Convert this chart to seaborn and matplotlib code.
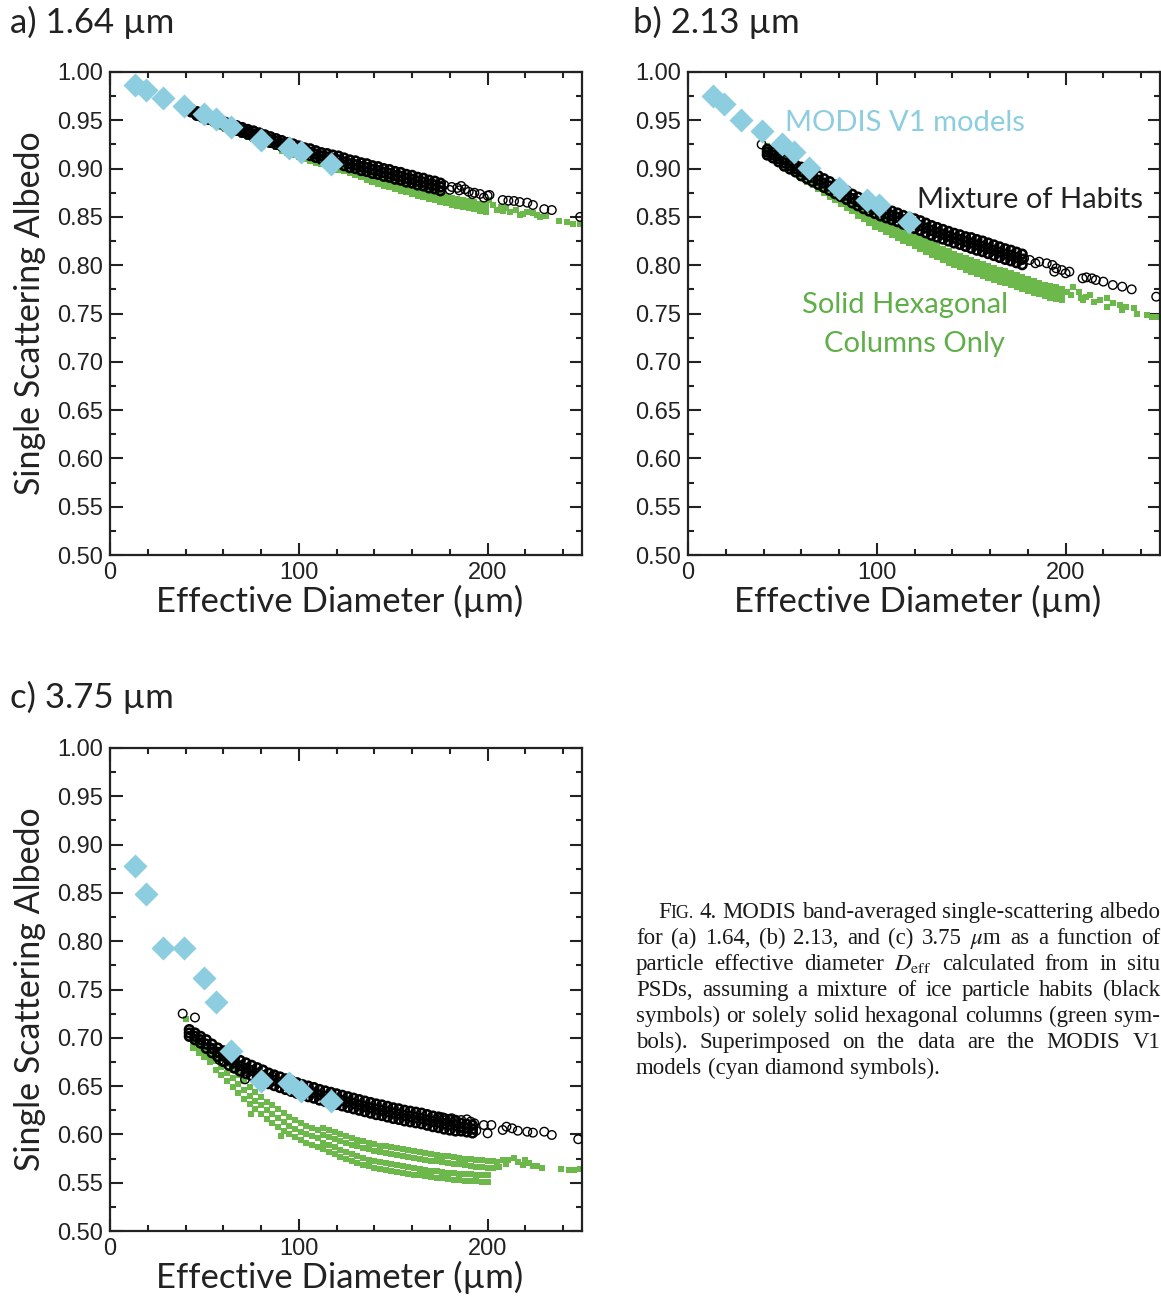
import matplotlib
matplotlib.use("Agg")
import matplotlib.pyplot as plt
import numpy as np
import pandas as pd
import seaborn as sns
from matplotlib.ticker import MultipleLocator, FormatStrFormatter

sns.set_style("ticks")
plt.rcParams["font.family"] = ["Liberation Sans", "DejaVu Sans"]
plt.rcParams["mathtext.fontset"] = "stix"

# ---------------- data ----------------
# MODIS V1 ice models (cyan diamonds), same diameters in all panels
modis_x = [13, 19, 28, 39, 50, 56, 64, 80, 95, 101, 117]
modis_a = [0.987, 0.981, 0.973, 0.965, 0.957, 0.951, 0.943, 0.930, 0.921, 0.917, 0.905]
modis_b = [0.975, 0.967, 0.950, 0.939, 0.925, 0.917, 0.901, 0.880, 0.867, 0.862, 0.845]
modis_c = [0.878, 0.849, 0.793, 0.793, 0.762, 0.737, 0.686, 0.655, 0.653, 0.645, 0.635]

# --- panel a, 1.64 um ---
a_mix_x = [40, 43, 46, 49, 52, 55, 58, 61, 64, 67,
           70, 73, 76, 79, 82, 85, 88, 91, 94, 97,
           100, 103, 106, 109, 112, 115, 118, 121, 124, 127,
           130, 133, 136, 139, 142, 145, 148, 151, 154, 157,
           160, 163, 166, 169, 172, 175]
a_mix_hi = [.9634, .9614, .959, .957, .955, .953, .951, .948, .946, .9445,
            .9425, .9405, .939, .937, .935, .933, .931, .929, .927, .9255,
            .9235, .9215, .9205, .9185, .9165, .9155, .914, .913, .911, .909,
            .908, .906, .905, .903, .902, .900, .899, .897, .896, .894,
            .893, .891, .890, .888, .887, .885]
a_mix_mid = [.962, .960, .957, .955, .953, .951, .949, .946, .944, .942,
             .940, .938, .936, .934, .932, .930, .928, .926, .924, .922,
             .920, .918, .917, .915, .913, .912, .910, .909, .907, .905,
             .904, .902, .901, .899, .898, .896, .895, .893, .892, .890,
             .889, .887, .886, .884, .883, .881]
a_mix_lo = [.9606, .9586, .955, .953, .951, .949, .947, .944, .942, .9395,
            .9375, .9355, .933, .931, .929, .927, .925, .923, .921, .9185,
            .9165, .9145, .9135, .9115, .9095, .9085, .906, .905, .903, .901,
            .900, .898, .897, .895, .894, .892, .891, .889, .888, .886,
            .885, .883, .882, .880, .879, .877]
a_mix_tail_x = [177, 180, 181, 184, 185, 186, 188, 190, 192, 193,
                196, 198, 200, 201, 208, 211, 214, 217, 221, 224,
                230, 234, 249]
a_mix_tail_y = [.883, .878, .881, .880, .8775, .882, .8786, .876, .8735, .875,
                .8737, .870, .872, .8727, .8675, .8668, .8665, .8654, .8647, .8623,
                .858, .8571, .850]

a_col_x = [58, 61, 64, 67, 70, 73, 76, 79, 82, 85,
           88, 91, 94, 97, 100, 103, 106, 109, 112, 115,
           118, 121, 124, 127, 130, 133, 136, 139, 142, 145,
           148, 151, 154, 157, 160, 163, 166, 169, 172, 175,
           178, 181, 184, 187, 190, 193, 196, 199]
a_col_hi = [.9465, .9445, .9425, .9405, .939, .937, .935, .933, .930, .928,
            .926, .924, .922, .920, .918, .916, .914, .912, .911, .909,
            .907, .9055, .9045, .9025, .9005, .8985, .8955, .8935, .8915, .8895,
            .8875, .8855, .8835, .8825, .8805, .8785, .8775, .8755, .8745, .8725,
            .8715, .8695, .8685, .8675, .8665, .8655, .8635, .8625]
a_col_mid = [.945, .943, .941, .939, .937, .935, .933, .931, .928, .926,
             .924, .921, .919, .917, .915, .913, .911, .909, .908, .906,
             .904, .902, .901, .899, .897, .895, .892, .890, .888, .886,
             .884, .882, .880, .879, .877, .875, .874, .872, .871, .869,
             .868, .866, .865, .864, .863, .862, .860, .859]
a_col_lo = [.9435, .9415, .9395, .9375, .935, .933, .931, .929, .926, .924,
            .922, .918, .916, .914, .912, .910, .908, .906, .905, .903,
            .901, .8985, .8975, .8955, .8935, .8915, .8885, .8865, .8845, .8825,
            .8805, .8785, .8765, .8755, .8735, .8715, .8705, .8685, .8675, .8655,
            .8645, .8625, .8615, .8605, .8595, .8585, .8565, .8555]
a_col_tail_x = [201, 203, 205, 207, 208, 210, 212, 215, 217, 219,
                221, 224, 226, 228, 231, 238, 242, 245, 249]
a_col_tail_y = [.8675, .862, .857, .8606, .856, .859, .8555, .857, .852, .8525,
                .8554, .8537, .852, .850, .8505, .8458, .845, .843, .8426]

# --- panel b, 2.13 um ---
b_mix_x = [42, 45, 48, 51, 54, 57, 60, 63, 66, 69,
           72, 75, 78, 81, 84, 87, 90, 93, 96, 99,
           102, 105, 108, 111, 114, 117, 120, 123, 126, 129,
           132, 135, 138, 141, 144, 147, 150, 153, 156, 159,
           162, 165, 168, 171, 174, 177]
b_mix_hi = [.920, .917, .913, .9095, .9065, .9035, .9015, .8985, .8955, .8925,
            .8895, .8865, .883, .880, .877, .8735, .8705, .8675, .865, .8625,
            .860, .858, .856, .854, .8515, .8495, .848, .846, .8435, .841,
            .839, .837, .835, .833, .8315, .8295, .8285, .8265, .825, .823,
            .821, .819, .817, .8155, .8135, .8115]
b_mix_mid = [.917, .914, .910, .906, .903, .900, .897, .894, .891, .888,
             .885, .882, .8785, .8755, .8725, .869, .866, .863, .8605, .858,
             .8555, .8535, .8515, .8495, .847, .845, .843, .841, .8385, .836,
             .834, .832, .830, .828, .8265, .8245, .823, .821, .8195, .8175,
             .8155, .8135, .8115, .810, .808, .806]
b_mix_lo = [.914, .911, .907, .9025, .8995, .8965, .8925, .8895, .8865, .8835,
            .8805, .8775, .874, .871, .868, .8645, .8615, .8585, .856, .8535,
            .851, .849, .847, .845, .8425, .8405, .838, .836, .8335, .831,
            .829, .827, .825, .823, .8215, .8195, .8175, .8155, .814, .812,
            .810, .808, .806, .8045, .8025, .8005]
b_mix_tail_x = [39, 178, 181, 184, 186, 190, 193, 194, 195, 198,
                200, 202, 209, 211, 214, 216, 220, 225, 230, 235, 248]
b_mix_tail_y = [.925, .807, .8054, .802, .8036, .802, .8002, .7933, .7968, .795,
                .7916, .7933, .7864, .7874, .7864, .7847, .783, .7795, .7778, .775, .7674]

b_col_x = [42, 45, 48, 51, 54, 57, 60, 63, 66, 69,
           72, 75, 78, 81, 84, 87, 90, 93, 96, 99,
           102, 105, 108, 111, 114, 117, 120, 123, 126, 129,
           132, 135, 138, 141, 144, 147, 150, 153, 156, 159,
           162, 165, 168, 171, 174, 177, 180, 183, 186, 189,
           192, 195, 198]
b_col_hi = [.923, .919, .914, .9115, .9075, .9035, .8995, .8955, .892, .888,
            .884, .880, .876, .872, .8685, .865, .863, .8595, .856, .852,
            .849, .846, .843, .840, .8375, .8345, .832, .829, .826, .823,
            .820, .817, .8145, .812, .810, .807, .805, .803, .801, .799,
            .797, .795, .7935, .792, .7895, .7875, .7855, .7835, .782, .780,
            .7785, .777, .7755]
b_col_mid = [.920, .916, .911, .907, .903, .899, .895, .891, .8875, .8835,
             .8795, .8755, .8715, .8675, .864, .8605, .857, .8535, .850, .846,
             .843, .840, .837, .834, .8315, .8285, .826, .823, .820, .817,
             .814, .811, .8085, .806, .804, .801, .799, .797, .795, .793,
             .791, .789, .7875, .786, .7835, .7815, .7795, .7775, .776, .774,
             .7725, .771, .7695]
b_col_lo = [.917, .913, .908, .9025, .8985, .8945, .8905, .8865, .883, .879,
            .875, .871, .867, .863, .8595, .856, .851, .8475, .844, .840,
            .837, .834, .831, .828, .8255, .8225, .820, .817, .814, .811,
            .808, .805, .8025, .800, .798, .795, .793, .791, .789, .787,
            .785, .783, .7815, .780, .7775, .7755, .7735, .7715, .770, .768,
            .7665, .765, .7635]
b_col_tail_x = [201, 203, 204, 207, 208, 209, 211, 213, 215, 218,
                222, 222, 225, 229, 230, 232, 236, 238, 243, 246, 249]
b_col_tail_y = [.772, .769, .7778, .7726, .7665, .7635, .7674, .7692, .7615, .764,
                .7657, .757, .7605, .7588, .7535, .757, .7554, .750, .7484, .7467, .746]

# --- panel c, 3.75 um ---
c_mix_x = [42, 45, 48, 51, 54, 57, 60, 63, 66, 69,
           72, 75, 78, 81, 84, 87, 90, 93, 96, 99,
           102, 105, 108, 111, 114, 117, 120, 123, 126, 129,
           132, 135, 138, 141, 144, 147, 150, 153, 156, 159,
           162, 165, 168, 171, 174, 177, 180, 183, 186, 189, 192]
c_mix_hi = [.7085, .705, .7015, .698, .6935, .6895, .6865, .6825, .6795, .6765,
            .674, .6715, .669, .6665, .6635, .6615, .6595, .6575, .6555, .6535,
            .6515, .650, .6485, .6465, .645, .6435, .642, .6405, .639, .6375,
            .636, .6345, .633, .6315, .6305, .629, .6275, .6265, .625, .624,
            .623, .622, .6205, .619, .618, .6165, .6155, .6145, .6115, .6105, .6095]
c_mix_mid = [.705, .7015, .698, .6935, .689, .685, .681, .677, .674, .671,
             .6685, .666, .6635, .661, .658, .656, .654, .652, .650, .648,
             .646, .6445, .643, .641, .6395, .638, .6365, .635, .6335, .632,
             .6305, .629, .6275, .626, .625, .6235, .622, .621, .6195, .6185,
             .6175, .6165, .615, .6135, .6125, .611, .610, .609, .6075, .6065, .6055]
c_mix_lo = [.7015, .698, .6945, .689, .6845, .6805, .6755, .6715, .6685, .6655,
            .663, .6605, .658, .6555, .6525, .6505, .6485, .6465, .6445, .6425,
            .6405, .639, .6375, .6355, .634, .6325, .631, .6295, .628, .6265,
            .625, .6235, .622, .6205, .6195, .618, .6165, .6155, .614, .613,
            .612, .611, .6095, .608, .607, .6055, .6045, .6035, .6035, .6025, .6015]
c_mix_tail_x = [38.5, 45, 54.6, 58, 60.5, 71.5, 81, 86, 176, 178,
                181, 183, 186, 189, 191, 193, 194, 198, 200, 202,
                208, 210, 213, 216, 221, 224, 230, 234, 248]
c_mix_tail_y = [.725, .721, .688, .677, .675, .657, .667, .660, .6177, .6149,
                .6167, .6097, .6149, .6156, .6132, .6115, .6038, .6097, .6011, .6097,
                .6046, .608, .6063, .6038, .6028, .6018, .6028, .5994, .595]

c_col_x = [44, 47, 50, 53, 56, 59, 62, 65, 68, 71,
           74, 77, 80, 83, 86, 89, 92, 95, 98, 101,
           104, 107, 110]
c_col_hi = [.701, .696, .692, .687, .685, .679, .673, .667, .661, .655,
            .649, .644, .639, .634, .630, .626, .622, .618, .615, .612,
            .609, .607, .605]
c_col_mid = [.695, .690, .686, .681, .676, .670, .664, .658, .652, .646,
             .640, .635, .630, .625, .621, .617, .613, .609, .606, .603,
             .600, .598, .596]
c_col_lo = [.689, .684, .680, .675, .667, .661, .655, .649, .643, .637,
            .631, .626, .621, .616, .612, .608, .604, .600, .597, .594,
            .591, .589, .587]
c_up_x = [113, 116, 119, 122, 125, 128, 131, 134, 137, 140,
          143, 146, 149, 152, 155, 158, 161, 164, 167, 170,
          173, 176, 179, 182, 185, 188, 191, 194, 197, 200, 203]
c_up_hi = [.6065, .6045, .6025, .6005, .5985, .5965, .5945, .593, .5915, .590,
           .5885, .5875, .5865, .5855, .5845, .5835, .5825, .5815, .5805, .5795,
           .579, .578, .5775, .5765, .576, .575, .5745, .5735, .573, .5725, .572]
c_up_lo = [.5995, .5975, .5955, .5935, .5915, .5895, .5875, .586, .5845, .583,
           .5815, .5805, .5795, .5785, .5775, .5765, .5755, .5745, .5735, .5725,
           .572, .571, .5705, .5695, .569, .568, .5675, .5665, .566, .5655, .565]
c_low_x = [113, 116, 119, 122, 125, 128, 131, 134, 137, 140,
           143, 146, 149, 152, 155, 158, 161, 164, 167, 170,
           173, 176, 179, 182, 185, 188, 191, 194, 197, 200]
c_low_hi = [.5915, .589, .5865, .584, .5815, .5795, .5775, .5755, .574, .5725,
            .5715, .570, .569, .568, .567, .566, .565, .5645, .5635, .5625,
            .562, .5615, .5605, .560, .5595, .559, .5585, .5583, .558, .5575]
c_low_lo = [.5845, .582, .5795, .577, .5745, .5725, .5705, .5685, .567, .5655,
            .5645, .563, .562, .561, .560, .559, .558, .5575, .5565, .5555,
            .555, .5545, .5535, .553, .5525, .552, .5515, .5513, .551, .5505]
c_col_tail_x = [40.3, 74.7, 90.4, 205, 206, 208, 210, 211, 214, 216,
                219, 220, 222, 224, 226, 229, 239, 243, 246, 249]
c_col_tail_y = [.719, .621, .598, .571, .5665, .5735, .5694, .5735, .5752, .5718,
                .5683, .574, .5707, .567, .5673, .5649, .5638, .5631, .5631, .5638]

GREEN = "#6cb84b"
GREEN_TXT = "#5fae47"
CYAN = "#8dcde0"
INK = "#222222"
TITLE_FONT = ["Lato", "DejaVu Sans"]


def points(xs, *rows):
    frames = []
    for r in rows:
        assert len(r) == len(xs)
        frames.append(pd.DataFrame({"d": xs, "w": r}))
    return pd.concat(frames)


panels = {
    "a": dict(
        band=points(a_mix_x, a_mix_hi, a_mix_mid, a_mix_lo),
        tail=points(a_mix_tail_x, a_mix_tail_y),
        col=pd.concat([points(a_col_x, a_col_hi, a_col_mid, a_col_lo),
                       points(a_col_tail_x, a_col_tail_y)]),
        modis=modis_a),
    "b": dict(
        band=points(b_mix_x, b_mix_hi, b_mix_mid, b_mix_lo),
        tail=points(b_mix_tail_x, b_mix_tail_y),
        col=pd.concat([points(b_col_x, b_col_hi, b_col_mid, b_col_lo),
                       points(b_col_tail_x, b_col_tail_y)]),
        modis=modis_b),
    "c": dict(
        band=points(c_mix_x, c_mix_hi, c_mix_mid, c_mix_lo),
        tail=points(c_mix_tail_x, c_mix_tail_y),
        col=pd.concat([points(c_col_x, c_col_hi, c_col_mid, c_col_lo),
                       points(c_up_x, c_up_hi, c_up_lo),
                       points(c_low_x, c_low_hi, c_low_lo),
                       points(c_col_tail_x, c_col_tail_y)]),
        modis=modis_c),
}

W, H = 1161, 1298
fig = plt.figure(figsize=(W / 100, H / 100), dpi=100)


def box(left, top, right, bottom):
    return [left / W, 1 - bottom / H, (right - left) / W, (bottom - top) / H]


layout = {"a": box(110, 72, 582, 555), "b": box(688, 72, 1160, 555),
          "c": box(110, 748, 582, 1231)}
titles = {"a": ("a) 1.64 \u00b5m", 10, 22), "b": ("b) 2.13 \u00b5m", 633, 22),
          "c": ("c) 3.75 \u00b5m", 10, 697)}

for key, p in panels.items():
    ax = fig.add_axes(layout[key])
    sns.scatterplot(data=p["col"], x="d", y="w", marker="s", s=22, color=GREEN,
                    linewidth=0, ax=ax, zorder=2, legend=False)
    # dense part of the mixture cloud reads as solid black in the figure
    sns.scatterplot(data=p["band"], x="d", y="w", marker="o", s=38, color="black",
                    facecolor="none", edgecolor="black", linewidth=1.9, ax=ax,
                    zorder=3, legend=False)
    sns.scatterplot(data=p["tail"], x="d", y="w", marker="o", s=38, color="black",
                    facecolor="none", edgecolor="black", linewidth=1.0, ax=ax,
                    zorder=3, legend=False)
    sns.scatterplot(x=modis_x, y=p["modis"], marker="D", s=150, color=CYAN,
                    linewidth=0, ax=ax, zorder=4, legend=False)

    ax.set_xlim(0, 250)
    ax.set_ylim(0.5, 1.0)
    ax.xaxis.set_major_locator(MultipleLocator(100))
    ax.xaxis.set_minor_locator(MultipleLocator(20))
    ax.yaxis.set_major_locator(MultipleLocator(0.05))
    ax.yaxis.set_minor_locator(MultipleLocator(0.025))
    ax.yaxis.set_major_formatter(FormatStrFormatter("%.2f"))
    ax.tick_params(which="both", direction="in", top=True, right=True,
                   width=1.5, color=INK, labelsize=17, labelcolor=INK)
    ax.tick_params(which="major", length=9, pad=5)
    ax.tick_params(which="minor", length=4.5)
    for sp in ax.spines.values():
        sp.set_linewidth(1.6)
        sp.set_color(INK)
        sp.set_visible(True)
    ax.set_xlabel("Effective Diameter (\u00b5m)", fontsize=25, family=TITLE_FONT,
                  color=INK, labelpad=0)
    ax.xaxis.set_label_coords(0.487, -0.062)
    if key in ("a", "c"):
        ax.set_ylabel("Single Scattering Albedo", fontsize=24.5, family=TITLE_FONT,
                      color=INK, labelpad=8)
    else:
        ax.set_ylabel("")
    t, tx, ty = titles[key]
    fig.text(tx / W, 1 - ty / H, t, fontsize=25, family=TITLE_FONT, color=INK,
             ha="left", va="center")

    if key == "b":
        ax.text(51.4, 0.947, "MODIS V1 models", color=CYAN, fontsize=21,
                family=TITLE_FONT, ha="left", va="center", zorder=5)
        ax.text(121.3, 0.8675, "Mixture of Habits", color=INK, fontsize=21,
                family=TITLE_FONT, ha="left", va="center", zorder=5)
        ax.text(115, 0.759, "Solid Hexagonal", color=GREEN_TXT, fontsize=21,
                family=TITLE_FONT, ha="center", va="center", zorder=5)
        ax.text(119.7, 0.718, "Columns Only", color=GREEN_TXT, fontsize=21,
                family=TITLE_FONT, ha="center", va="center", zorder=5)

# caption, justified by hand
caption = [
    ("FIG. 4. MODIS band-averaged single-scattering albedo", 658, True),
    ("for (a) 1.64, (b) 2.13, and (c) 3.75 $\\mu$m as a function of", 636, True),
    ("particle effective diameter $D_\\mathrm{eff}$ calculated from in situ", 636, True),
    ("PSDs, assuming a mixture of ice particle habits (black", 636, True),
    ("symbols) or solely solid hexagonal columns (green sym-", 636, True),
    ("bols). Superimposed on the data are the MODIS V1", 636, True),
    ("models (cyan diamond symbols).", 636, False),
]
renderer = fig.canvas.get_renderer()
cap_size = 16.5
right_edge = 1160
for i, (line, x0, just) in enumerate(caption):
    yb = 1 - (918 + 26 * i) / H
    words = []
    for w in line.split(" "):
        parts = [("F", cap_size), ("IG.", cap_size * 0.78)] if w == "FIG." else [(w, cap_size)]
        objs = []
        for txt, sz in parts:
            t = fig.text(0, yb, txt, fontsize=sz, family="Liberation Serif",
                         color="#1a1a1a", va="baseline", ha="left")
            objs.append((t, t.get_window_extent(renderer).width))
        words.append(objs)
    widths = [sum(wd for _, wd in objs) for objs in words]
    if just and len(words) > 1:
        gap = (right_edge - x0 - sum(widths)) / (len(words) - 1)
    else:
        gap = cap_size * 100 / 72 * 0.25
    x = x0
    for objs, wsum in zip(words, widths):
        xx = x
        for t, wd in objs:
            t.set_x(xx / W)
            xx += wd
        x += wsum + gap

fig.savefig("out.png", dpi=100, facecolor="white")
